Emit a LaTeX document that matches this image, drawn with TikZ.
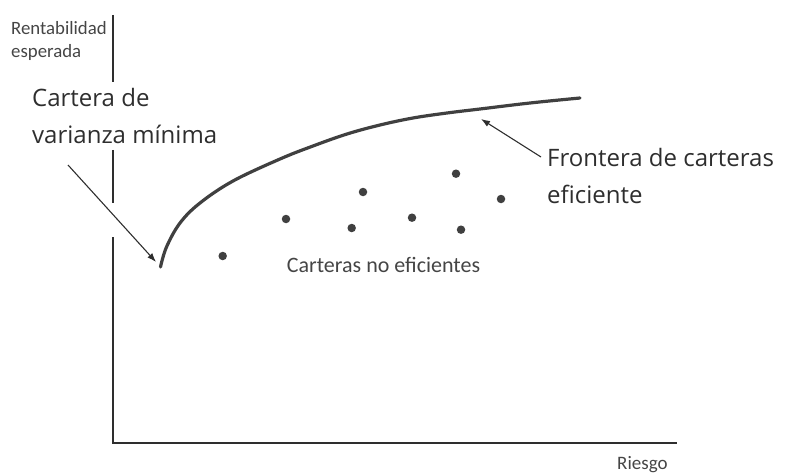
\documentclass[tikz,border=0pt]{standalone}
\usepackage{fontspec}
\setmainfont{Open Sans}
\newfontfamily\bigf{Open Sans}
\newfontfamily\smallf{Carlito}
\usetikzlibrary{arrows.meta}
\definecolor{ink}{HTML}{2E2E2E}
\definecolor{curveink}{HTML}{404040}
\definecolor{smallink}{HTML}{454545}
\tikzset{
  axisline/.style={draw=ink, line width=1.4pt},
  frontier/.style={draw=curveink, line width=3.2pt, line cap=round},
  pointer/.style={draw=ink, line width=1.1pt, -{Latex[length=9pt,width=6.5pt]}},
  dotpt/.style={circle, fill=curveink, inner sep=0pt, minimum size=8.5pt},
  bigtext/.style={font=\bigf\fontsize{24}{37}\selectfont, text=ink, inner sep=0pt, anchor=base west},
  smalltext/.style={font=\smallf\fontsize{18.8}{23}\selectfont, text=smallink, inner sep=0pt, anchor=base west},
}
\begin{document}
\begin{tikzpicture}[x=1pt,y=-1pt]
\useasboundingbox (0,0) rectangle (786,473);
% axes
\draw[axisline] (113,15) -- (113,82);
\draw[axisline] (113,150) -- (113,203);
\draw[axisline] (113,237) -- (113,443) -- (677,443);
% frontier
\draw[frontier] plot[smooth, tension=0.6] coordinates {(160.5,267) (166.5,247) (180,223) (200,203) (233,181) (280,159) (313,146) (347,134) (380,125) (413,118) (447,113) (480,109) (530,103) (580,98)};
% labels
\node[smalltext] (rent) at (11,35) {Rentabilidad};
\node[smalltext] (esp) at (11,58) {esperada};
\node[smalltext, font=\smallf\fontsize{19}{23}\selectfont] (riesgo) at (617,469) {Riesgo};
\node[bigtext] (cart1) at (32,107) {Cartera de};
\node[bigtext] (cart2) at (32,144) {varianza mínima};
\node[bigtext] (fron1) at (547,167) {Frontera de carteras};
\node[bigtext] (fron2) at (547,203) {eficiente};
\node[smalltext, font=\smallf\fontsize{22}{26}\selectfont] (noef) at (286.7,272.5) {Carteras no eficientes};
% dots
\node[dotpt] (d1) at (222.7,256) {};
\node[dotpt] (d2) at (286,219) {};
\node[dotpt] (d3) at (363,192) {};
\node[dotpt] (d4) at (351.7,228) {};
\node[dotpt] (d5) at (412,217.7) {};
\node[dotpt] (d6) at (456,173.7) {};
\node[dotpt] (d7) at (461,229.7) {};
\node[dotpt] (d8) at (501,199) {};
% pointers
\coordinate (mvtail) at (68,165);
\coordinate (mvtip) at (156,262);
\coordinate (eftail) at (541,157);
\coordinate (eftip) at (481,119);
\draw[pointer] (mvtail) -- (mvtip);
\draw[pointer] (eftail) -- (eftip);
\end{tikzpicture}
\end{document}
